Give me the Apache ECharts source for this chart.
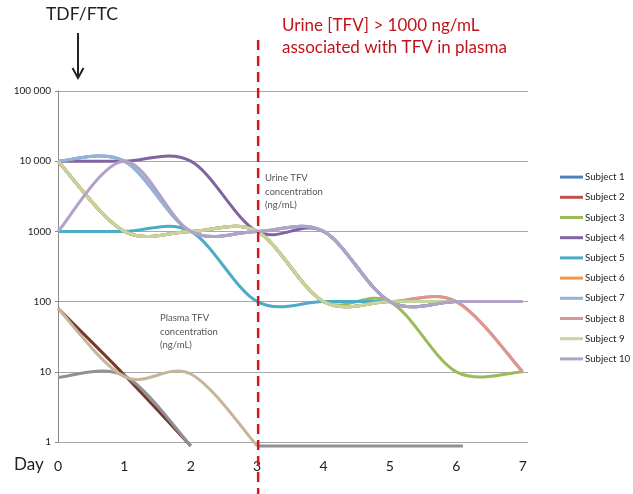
<!DOCTYPE html>
<html><head><meta charset="utf-8">
<script src="https://cdn.jsdelivr.net/npm/echarts@6/dist/echarts.min.js"></script>
<style>html,body{margin:0;padding:0;background:#fff}#c{width:633px;height:494px}</style>
</head><body><div id="c"></div>
<script>
// ---- data ----
const days = [0, 1, 2, 3, 4, 5, 6, 7];
const dayTicks = ['0', '1', '2', '3', '4', '5', '6', '7'];
const yTicks = [1, 10, 100, 1000, 10000, 100000];
const subjectNames = ['Subject 1','Subject 2','Subject 3','Subject 4','Subject 5','Subject 6','Subject 7','Subject 8','Subject 9','Subject 10'];
// urine TFV (ng/mL) per day 0..7
const urine1  = [10000, 10000, 1000, 1000, 1000, 100, 100, 100];
const urine2  = [10000, 1000, 1000, 1000, 100, 100, 100, 100];
const urine3  = [10000, 1000, 1000, 1000, 100, 100, 10, 10];
const urine4  = [10000, 10000, 10000, 1000, 1000, 100, 100, 100];
const urine5  = [1000, 1000, 1000, 100, 100, 100, 100, 100];
const urine6  = [10000, 1000, 1000, 1000, 100, 100, 100, 10];
const urine7  = [10000, 10000, 1000, 1000, 1000, 100, 100, 100];
const urine8  = [10000, 1000, 1000, 1000, 100, 100, 100, 10];
const urine9  = [10000, 1000, 1000, 1000, 100, 100, 100, 100];
const urine10 = [1000, 10000, 1000, 1000, 1000, 100, 100, 100];
// plasma TFV (ng/mL)
const plasmaBrownDays = [0, 1, 2];
const plasmaBrown = [80, 9, 0.88];
const plasmaGreyDays = [0, 1, 2];
const plasmaGrey = [8.3, 8.8, 0.88];
const plasmaTanDays = [0, 1, 2, 3];
const plasmaTan = [80, 8.5, 9.3, 0.88];
const plasmaFlatDays = [3, 6.1];
const plasmaFlat = [0.88, 0.88];

const urineAll = [urine1, urine2, urine3, urine4, urine5, urine6, urine7, urine8, urine9, urine10];
const colors = ['#4F81BD','#C0504D','#9BBB59','#8064A2','#4BACC6','#F79646','#95B3D7','#D99694','#C3D69B','#B3A2C7'];

const pair = (xs, ys) => xs.map((x, i) => [x, ys[i]]);
const seriesPoints = [];
const series = [];

// Catmull-Rom smoothed line drawn through the axis scales (like Excel's smoothed line)
function makeRender(idx, color) {
  return function (params, api) {
    if (params.dataIndex !== 0) return null;
    const pts = seriesPoints[idx].map(d => api.coord(d));
    const n = pts.length;
    const P = i => pts[Math.max(0, Math.min(n - 1, i))];
    let d = 'M' + pts[0][0] + ' ' + pts[0][1];
    for (let i = 0; i < n - 1; i++) {
      const p0 = P(i - 1), p1 = P(i), p2 = P(i + 1), p3 = P(i + 2);
      const c1 = [p1[0] + (p2[0] - p0[0]) / 6, p1[1] + (p2[1] - p0[1]) / 6];
      const c2 = [p2[0] - (p3[0] - p1[0]) / 6, p2[1] - (p3[1] - p1[1]) / 6];
      d += ' C' + c1[0] + ' ' + c1[1] + ' ' + c2[0] + ' ' + c2[1] + ' ' + p2[0] + ' ' + p2[1];
    }
    return { type: 'path', shape: { pathData: d }, style: { stroke: color, lineWidth: 3, fill: null, lineJoin: 'round' } };
  };
}
function addSeries(name, data, color, z) {
  const idx = seriesPoints.length;
  seriesPoints.push(data);
  series.push({
    name: name, type: 'custom', data: data, encode: { x: 0, y: 1 },
    renderItem: makeRender(idx, color), clip: false, z: z,
    itemStyle: { color: color }, silent: true
  });
}
const plasmaDefs = [
  [plasmaBrownDays, plasmaBrown, '#74392C'],
  [plasmaGreyDays, plasmaGrey, '#8E9196'],
  [plasmaTanDays, plasmaTan, '#C6B49C'],
  [plasmaFlatDays, plasmaFlat, '#8E9196']
];
plasmaDefs.forEach(([xs, ys, c], k) => addSeries('plasma' + k, pair(xs, ys), c, 2));
urineAll.forEach((arr, i) => addSeries(subjectNames[i], pair(days, arr), colors[i], 3));

const fmtY = v => {
  if (v >= 10000) { const s = String(v); return s.slice(0, s.length - 3) + ' ' + s.slice(-3); }
  return String(v);
};

const chart = echarts.init(document.getElementById('c'), null, { renderer: 'canvas' });
chart.setOption({
  animation: false,
  backgroundColor: '#fff',
  grid: { left: 58, top: 91, width: 470, height: 351, containLabel: false },
  xAxis: {
    type: 'value', min: 0, max: 7.08, interval: 1,
    axisLine: { show: false }, axisTick: { show: false }, splitLine: { show: false },
    axisLabel: { margin: 17, fontSize: 14, color: '#222', fontFamily: 'Lato',
      formatter: v => (Number.isInteger(v) && v <= 7) ? dayTicks[v] : '' }
  },
  yAxis: {
    type: 'log', logBase: 10, min: yTicks[0], max: yTicks[yTicks.length - 1],
    axisLine: { show: true, lineStyle: { color: '#8a8a8a', width: 1 } },
    axisTick: { show: true, length: 3, lineStyle: { color: '#8a8a8a' } },
    splitLine: { show: true, lineStyle: { color: '#a8a8a8', width: 1 } },
    minorSplitLine: { show: false },
    axisLabel: { fontSize: 10, color: '#222', margin: 7, fontFamily: 'Lato', formatter: fmtY }
  },
  legend: {
    data: subjectNames, orient: 'vertical', left: 555, top: 166,
    icon: 'rect', itemWidth: 23, itemHeight: 3, itemGap: 8,
    textStyle: { fontSize: 9.7, color: '#222', fontFamily: 'Lato', lineHeight: 12.2, padding: [0, 0, 0, -3] }
  },
  series: series
});

const x3 = chart.convertToPixel({ xAxisIndex: 0 }, 3);
chart.setOption({
  graphic: [
    { type: 'text', left: 46, top: 5, style: { text: 'TDF/FTC', font: '17.5px Lato', fill: '#222' } },
    { type: 'line', shape: { x1: 78, y1: 33, x2: 78, y2: 77 }, style: { stroke: '#222', lineWidth: 2 } },
    { type: 'polyline', shape: { points: [[72.5, 68], [78, 78], [83.5, 68]] }, style: { stroke: '#222', lineWidth: 2, fill: null } },
    { type: 'line', shape: { x1: x3 + 1, y1: 40, x2: x3 + 1, y2: 494 }, z: 50,
      style: { stroke: '#CC1A1F', lineWidth: 2.5, lineDash: [10, 6] } },
    { type: 'text', left: 282, top: 17, style: { text: 'Urine [TFV] > 1000 ng/mL', font: '17px Lato', fill: '#C0141C' } },
    { type: 'text', left: 282, top: 39, style: { text: 'associated with TFV in plasma', font: '17px Lato', fill: '#C0141C' } },
    { type: 'text', left: 265, top: 171, style: { text: 'Urine TFV\nconcentration\n(ng/mL)', font: '9.5px Lato', fill: '#555', lineHeight: 13.7 } },
    { type: 'text', left: 160, top: 311, style: { text: 'Plasma TFV\nconcentration\n(ng/mL)', font: '9.5px Lato', fill: '#555', lineHeight: 13.7 } },
    { type: 'text', left: 14, top: 456, style: { text: 'Day', font: '17px Lato', fill: '#222' } }
  ]
});
</script></body></html>
